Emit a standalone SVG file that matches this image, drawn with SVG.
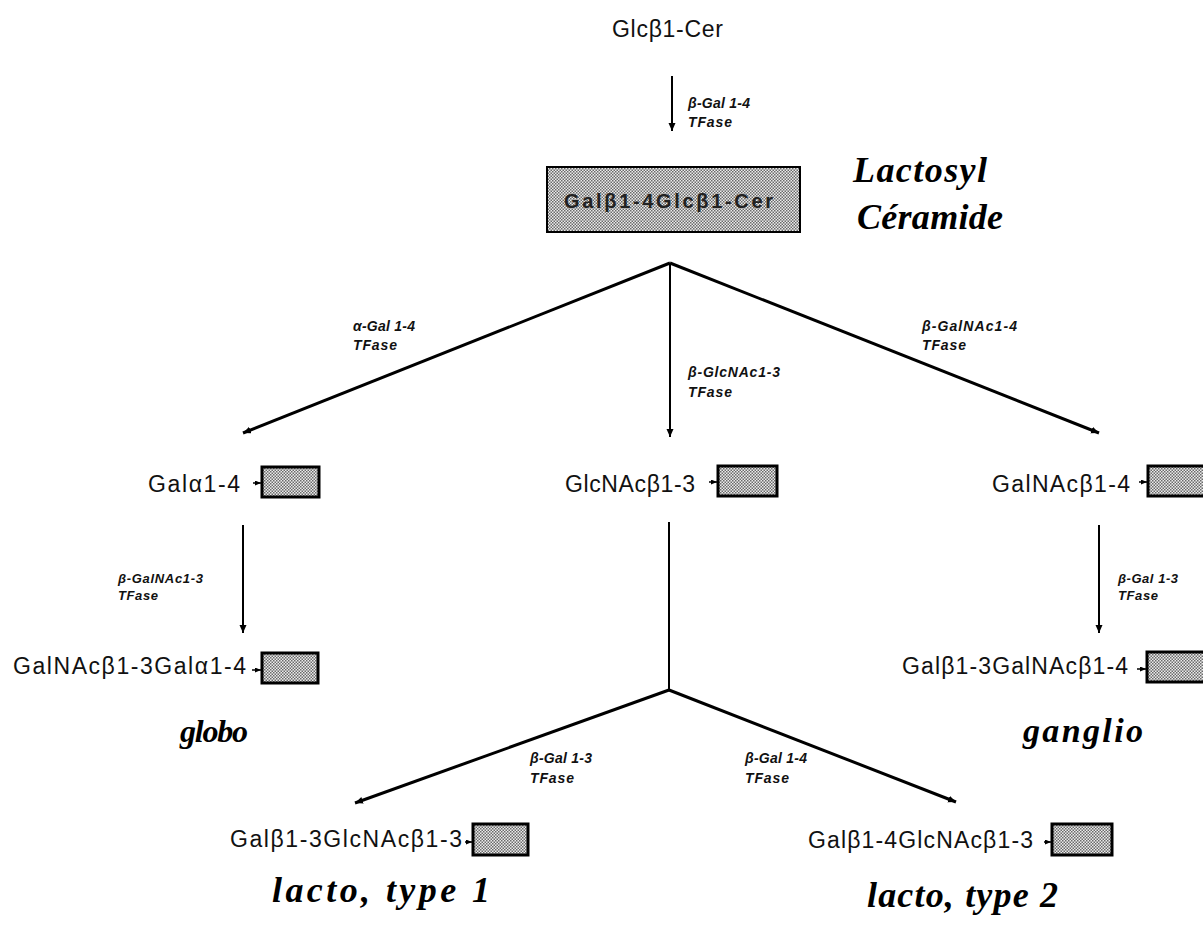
<svg xmlns="http://www.w3.org/2000/svg" width="1203" height="925" viewBox="0 0 1203 925">
<style>
.node{font-family:"Liberation Sans",Arial,sans-serif;font-size:23px;fill:#111}
.enz{font-family:"Liberation Sans",Arial,sans-serif;font-size:14px;font-weight:bold;font-style:italic;fill:#111}
.enzs{font-family:"Liberation Sans",Arial,sans-serif;font-size:13px;font-weight:bold;font-style:italic;fill:#111}
.script{font-family:"Liberation Serif","DejaVu Serif",serif;font-weight:bold;font-style:italic;fill:#000}
.cer{fill:url(#stip);stroke:#000;stroke-width:3}
.ln{stroke:#000;fill:none}
</style>
<defs>
<pattern id="stip" width="3" height="3" patternUnits="userSpaceOnUse">
<rect width="3" height="3" fill="#ececec"/>
<rect x="0" y="0" width="1.5" height="1.5" fill="#6a6a6a"/>
<rect x="1.5" y="1.5" width="1.5" height="1.5" fill="#6a6a6a"/>
</pattern>
<marker id="ah" markerUnits="userSpaceOnUse" markerWidth="10" markerHeight="8" refX="8" refY="3.5" orient="auto">
<path d="M0,0 L8,3.5 L0,7 z" fill="#000"/>
</marker>
<marker id="sa" markerUnits="userSpaceOnUse" markerWidth="8" markerHeight="6" refX="6" refY="2.5" orient="auto">
<path d="M0,0 L6,2.5 L0,5 z" fill="#000"/>
</marker>
</defs>
<rect width="1203" height="925" fill="#fff"/>

<g id="connectors">
<line class="ln" x1="672" y1="76" x2="672" y2="131" stroke-width="2" marker-end="url(#ah)"/>
<line class="ln" x1="670" y1="263" x2="243" y2="433" stroke-width="3" marker-end="url(#ah)"/>
<line class="ln" x1="670" y1="263" x2="670" y2="437" stroke-width="2" marker-end="url(#ah)"/>
<line class="ln" x1="670" y1="263" x2="1099" y2="433" stroke-width="3" marker-end="url(#ah)"/>
<line class="ln" x1="243" y1="525" x2="243" y2="633" stroke-width="2" marker-end="url(#ah)"/>
<line class="ln" x1="1099" y1="525" x2="1099" y2="633" stroke-width="2" marker-end="url(#ah)"/>
<line class="ln" x1="669" y1="522" x2="669" y2="690" stroke-width="2"/>
<line class="ln" x1="669" y1="690" x2="355" y2="803" stroke-width="3" marker-end="url(#ah)"/>
<line class="ln" x1="669" y1="690" x2="956" y2="802" stroke-width="3" marker-end="url(#ah)"/>
<line class="ln" x1="253" y1="483" x2="261" y2="483" stroke-width="1.5" marker-end="url(#sa)"/>
<line class="ln" x1="709" y1="482" x2="717" y2="482" stroke-width="1.5" marker-end="url(#sa)"/>
<line class="ln" x1="1139" y1="482" x2="1147" y2="482" stroke-width="1.5" marker-end="url(#sa)"/>
<line class="ln" x1="252" y1="670" x2="261" y2="670" stroke-width="1.5" marker-end="url(#sa)"/>
<line class="ln" x1="1137" y1="669" x2="1146" y2="669" stroke-width="1.5" marker-end="url(#sa)"/>
<line class="ln" x1="465" y1="842" x2="472" y2="842" stroke-width="1.5" marker-end="url(#sa)"/>
<line class="ln" x1="1044" y1="842" x2="1051" y2="842" stroke-width="1.5" marker-end="url(#sa)"/>
<text class="enz" x="688" y="108" textLength="62">β-Gal 1-4</text>
<text class="enz" x="688" y="127" textLength="44">TFase</text>
<text class="enz" x="353" y="331" textLength="62">α-Gal 1-4</text>
<text class="enz" x="353" y="350" textLength="44">TFase</text>
<text class="enz" x="688" y="377" textLength="92">β-GlcNAc1-3</text>
<text class="enz" x="688" y="397" textLength="44">TFase</text>
<text class="enz" x="922" y="331" textLength="95">β-GalNAc1-4</text>
<text class="enz" x="922" y="350" textLength="44">TFase</text>
<text class="enzs" x="118" y="583" textLength="85">β-GalNAc1-3</text>
<text class="enzs" x="118" y="600" textLength="40">TFase</text>
<text class="enzs" x="1118" y="583" textLength="60">β-Gal 1-3</text>
<text class="enzs" x="1118" y="600" textLength="40">TFase</text>
<text class="enz" x="530" y="763" textLength="62">β-Gal 1-3</text>
<text class="enz" x="530" y="783" textLength="44">TFase</text>
<text class="enz" x="745" y="763" textLength="62">β-Gal 1-4</text>
<text class="enz" x="745" y="783" textLength="44">TFase</text>
</g>

<g id="glccer">
<text class="node" x="612" y="37" font-size="21" textLength="111">Glcβ1-Cer</text>
</g>

<g id="lactosylcer">
<rect x="547" y="167" width="253" height="65" fill="url(#stip)" stroke="#000" stroke-width="2"/>
<text x="564" y="208" font-family="Liberation Sans,Arial,sans-serif" font-size="20" font-weight="bold" fill="#222" textLength="209">Galβ1-4Glcβ1-Cer</text>
<text class="script" x="853" y="182" font-size="36" textLength="134">Lactosyl</text>
<text class="script" x="857" y="229" font-size="36" textLength="146">Céramide</text>
</g>

<g id="gal-a14">
<text class="node" x="148" y="492" textLength="92">Galα1-4</text>
<rect class="cer" x="262" y="467" width="57" height="30"/>
</g>

<g id="glcnac-b13">
<text class="node" x="565" y="492" textLength="130">GlcNAcβ1-3</text>
<rect class="cer" x="718" y="466" width="59" height="30"/>
</g>

<g id="galnac-b14">
<text class="node" x="992" y="492" textLength="138">GalNAcβ1-4</text>
<rect class="cer" x="1148" y="466" width="62" height="30"/>
</g>

<g id="globo">
<text class="node" x="13" y="674" textLength="233">GalNAcβ1-3Galα1-4</text>
<rect class="cer" x="262" y="653" width="56" height="30"/>
<text class="script" x="180" y="742" font-size="32" textLength="68">globo</text>
</g>

<g id="ganglio">
<text class="node" x="902" y="674" textLength="226">Galβ1-3GalNAcβ1-4</text>
<rect class="cer" x="1147" y="652" width="63" height="30"/>
<text class="script" x="1023" y="742" font-size="34" textLength="120">ganglio</text>
</g>

<g id="lacto1">
<text class="node" x="230" y="847" textLength="232">Galβ1-3GlcNAcβ1-3</text>
<rect class="cer" x="473" y="824" width="55" height="31"/>
<text class="script" x="272" y="902" font-size="36" textLength="218">lacto, type 1</text>
</g>

<g id="lacto2">
<text class="node" x="808" y="848" textLength="225">Galβ1-4GlcNAcβ1-3</text>
<rect class="cer" x="1052" y="824" width="60" height="31"/>
<text class="script" x="867" y="907" font-size="36" textLength="191">lacto, type 2</text>
</g>
</svg>
